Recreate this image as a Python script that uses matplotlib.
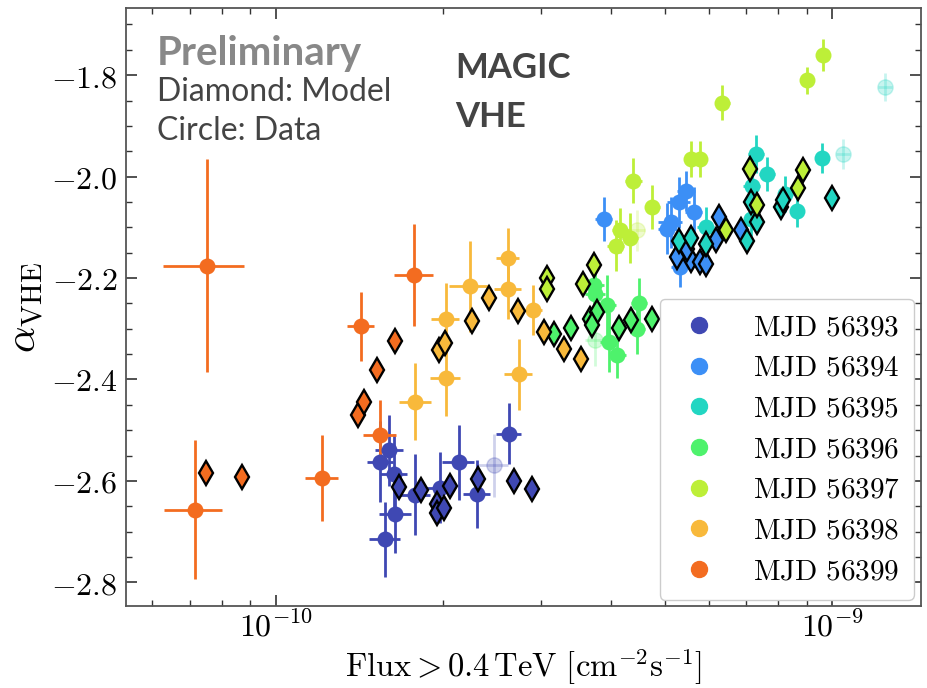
import numpy as np
import matplotlib.pyplot as plt
from matplotlib.lines import Line2D
from matplotlib.ticker import MultipleLocator, FixedLocator, FuncFormatter, LogLocator, NullFormatter

plt.rcParams['mathtext.fontset'] = 'cm'

# MAGIC VHE spectral index vs flux, one colour per night
days = ['56393', '56394', '56395', '56396', '56397', '56398', '56399']
colors = ['#3f48b3', '#3c8ff6', '#22d6c2', '#4ef26c', '#bdef38', '#f8b93b', '#f36c20']

# measured points (flux in units of 1e-10 cm^-2 s^-1)
flux_93 = [1.54, 1.60, 1.63, 1.64, 1.57, 1.78, 1.97, 2.13, 2.30, 2.62]
dflux_93 = [0.085, 0.094, 0.092, 0.11, 0.10, 0.11, 0.12, 0.14, 0.13, 0.135]
alpha_93 = [-2.562, -2.540, -2.587, -2.665, -2.715, -2.627, -2.614, -2.563, -2.625, -2.507]
dalpha_93 = [0.08, 0.07, 0.08, 0.077, 0.074, 0.08, 0.07, 0.074, 0.067, 0.06]

flux_94 = [3.885, 5.46, 5.30, 5.64, 5.12, 5.05, 5.33]
dflux_94 = [0.135, 0.2, 0.25, 0.2, 0.25, 0.2, 0.2]
alpha_94 = [-2.083, -2.028, -2.051, -2.070, -2.090, -2.103, -2.178]
dalpha_94 = [0.043, 0.04, 0.05, 0.05, 0.05, 0.05, 0.04]

flux_95 = [7.30, 7.63, 7.17, 8.23, 8.64, 9.58, 5.92, 7.13]
dflux_95 = [0.25, 0.25, 0.25, 0.25, 0.25, 0.25, 0.2, 0.2]
alpha_95 = [-1.955, -1.995, -2.018, -2.034, -2.067, -1.963, -2.100, -2.083]
dalpha_95 = [0.037, 0.034, 0.03, 0.035, 0.033, 0.029, 0.04, 0.035]

flux_96 = [3.73, 3.75, 3.94, 4.49, 4.46, 3.97, 4.11]
dflux_96 = [0.15, 0.15, 0.15, 0.15, 0.15, 0.15, 0.15]
alpha_96 = [-2.214, -2.231, -2.254, -2.250, -2.300, -2.326, -2.352]
dalpha_96 = [0.05, 0.05, 0.06, 0.05, 0.05, 0.06, 0.046]

flux_97 = [5.56, 5.79, 4.39, 4.75, 4.16, 4.08, 4.33, 6.34, 9.01, 9.62]
dflux_97 = [0.15, 0.15, 0.15, 0.15, 0.15, 0.15, 0.15, 0.2, 0.25, 0.25]
alpha_97 = [-1.965, -1.965, -2.008, -2.060, -2.106, -2.136, -2.121, -1.854, -1.810, -1.760]
dalpha_97 = [0.036, 0.036, 0.045, 0.043, 0.045, 0.05, 0.05, 0.034, 0.027, 0.031]

flux_98 = [2.61, 2.61, 2.23, 2.02, 2.02, 1.78, 2.73, 2.90]
dflux_98 = [0.125, 0.145, 0.185, 0.117, 0.125, 0.117, 0.16, 0.11]
alpha_98 = [-2.161, -2.221, -2.216, -2.280, -2.398, -2.444, -2.390, -2.263]
dalpha_98 = [0.06, 0.06, 0.09, 0.07, 0.075, 0.076, 0.07, 0.05]

flux_99 = [0.752, 0.715, 1.209, 1.421, 1.771, 1.539]
dflux_99 = [0.124, 0.086, 0.083, 0.079, 0.143, 0.106]
alpha_99 = [-2.176, -2.657, -2.594, -2.295, -2.194, -2.509]
dalpha_99 = [0.21, 0.137, 0.085, 0.068, 0.10, 0.068]

# low-significance points, drawn faded
faded_day = ['56393', '56395', '56395', '56396', '56397']
faded_flux = [2.465, 10.45, 12.45, 3.75, 4.46]
faded_dflux = [0.153, 0.3, 0.35, 0.15, 0.15]
faded_alpha = [-2.569, -1.955, -1.823, -2.3225, -2.106]
faded_dalpha = [0.062, 0.03, 0.027, 0.05, 0.04]

# model points
mflux_93 = [1.665, 1.82, 1.945, 1.948, 2.005, 2.056, 2.308, 2.678, 2.889]
malpha_93 = [-2.612, -2.6175, -2.645, -2.663, -2.6535, -2.610, -2.5965, -2.600, -2.616]
mflux_94 = [6.25, 6.84, 6.19, 5.56, 5.79, 5.92, 5.25, 5.48]
malpha_94 = [-2.080, -2.106, -2.1245, -2.165, -2.1685, -2.172, -2.159, -2.142]
mflux_95 = [5.30, 5.56, 5.94, 7.01, 7.33, 7.13, 8.07, 8.16, 9.99]
malpha_95 = [-2.126, -2.121, -2.132, -2.127, -2.090, -2.051, -2.060, -2.047, -2.042]
mflux_96 = [3.16, 3.385, 3.666, 3.781, 3.703, 4.134, 4.338, 4.732]
malpha_96 = [-2.310, -2.2995, -2.280, -2.267, -2.293, -2.2995, -2.283, -2.280]
mflux_97 = [7.10, 7.33, 6.45, 8.86, 8.66, 3.07, 3.07, 3.57, 3.73]
malpha_97 = [-1.985, -2.055, -2.105, -1.987, -2.023, -2.199, -2.221, -2.212, -2.174]
mflux_98 = [1.965, 2.011, 2.255, 2.415, 2.728, 3.032, 3.294, 3.528]
malpha_98 = [-2.341, -2.328, -2.285, -2.239, -2.265, -2.306, -2.339, -2.359]
mflux_99 = [0.749, 0.868, 1.402, 1.437, 1.518, 1.637]
malpha_99 = [-2.585, -2.593, -2.470, -2.445, -2.382, -2.324]

data = [
    (flux_93, dflux_93, alpha_93, dalpha_93),
    (flux_94, dflux_94, alpha_94, dalpha_94),
    (flux_95, dflux_95, alpha_95, dalpha_95),
    (flux_96, dflux_96, alpha_96, dalpha_96),
    (flux_97, dflux_97, alpha_97, dalpha_97),
    (flux_98, dflux_98, alpha_98, dalpha_98),
    (flux_99, dflux_99, alpha_99, dalpha_99),
]
model = [(mflux_93, malpha_93), (mflux_94, malpha_94), (mflux_95, malpha_95),
         (mflux_96, malpha_96), (mflux_97, malpha_97), (mflux_98, malpha_98),
         (mflux_99, malpha_99)]
unit = 1e-10

fig = plt.figure(figsize=(9.27, 6.88), dpi=100)
ax = fig.add_axes([0.136, 0.119, 0.857, 0.869])

# faded points first
for d, f, df, a, da in zip(faded_day, faded_flux, faded_dflux, faded_alpha, faded_dalpha):
    c = colors[days.index(d)]
    ax.errorbar(f * unit, a, xerr=df * unit, yerr=da, fmt='o', color=c, ms=11,
                elinewidth=2, capsize=0, alpha=0.25, zorder=1)

# measured data
for (f, df, a, da), c in zip(data, colors):
    ax.errorbar(np.array(f) * unit, a, xerr=np.array(df) * unit, yerr=da, fmt='o',
                color=c, ms=11.5, mec='none', elinewidth=2, capsize=0, zorder=2)

# model diamonds on top
for (mf, ma), c in zip(model, colors):
    ax.plot(np.array(mf) * unit, ma, 'd', color=c, ms=12.5, mec='black', mew=1.7,
            linestyle='None', zorder=3)

ax.set_xscale('log')
ax.set_xlim(5.38e-11, 1.44e-9)
ax.set_ylim(-2.847, -1.668)

ax.xaxis.set_major_locator(FixedLocator([1e-10, 1e-9]))
ax.xaxis.set_major_formatter(FuncFormatter(lambda v, p: r'$10^{%d}$' % round(np.log10(v))))
ax.xaxis.set_minor_locator(LogLocator(base=10, subs=np.arange(2, 10)))
ax.xaxis.set_minor_formatter(NullFormatter())
ax.yaxis.set_major_locator(MultipleLocator(0.2))
ax.yaxis.set_minor_locator(MultipleLocator(0.05))
ax.yaxis.set_major_formatter(FuncFormatter(lambda v, p: r'$%.1f$' % v))

ax.tick_params(which='both', direction='in', top=True, right=True, colors='#333333',
               labelcolor='black')
ax.tick_params(which='major', length=8, width=1.2, labelsize=23, pad=6)
ax.tick_params(axis='x', which='major', pad=4)
ax.tick_params(which='minor', length=4, width=1.0)
for s in ax.spines.values():
    s.set_color('#555555')
    s.set_linewidth(1.3)

ax.set_xlabel(r'$\mathrm{Flux} > 0.4\,\mathrm{TeV}\ [\mathrm{cm}^{-2}\mathrm{s}^{-1}]$',
              fontsize=23.5)
ax.xaxis.set_label_coords(0.5, -0.068)
ax.set_ylabel(r'$\alpha_{\mathrm{VHE}}$', fontsize=30, labelpad=4)

handles = [Line2D([], [], marker='o', color=c, ms=11.5, linestyle='None') for c in colors]
labels = [r'$\mathrm{MJD\ %s}$' % d for d in days]
leg = ax.legend(handles, labels, loc='lower right', fontsize=21, frameon=True,
                fancybox=True, framealpha=1, edgecolor='#cccccc',
                borderaxespad=0.22, labelspacing=0.434, handlelength=1.74,
                handletextpad=0.95, borderpad=0.5)

fig.text(157 / 927, 1 - 65 / 688, 'Preliminary', fontsize=29, fontweight='bold',
         color='#888888', family='Lato', va='baseline')
fig.text(157 / 927, 1 - 101 / 688, 'Diamond: Model', fontsize=23, color='#444444',
         family='Lato', va='baseline')
fig.text(157 / 927, 1 - 140 / 688, 'Circle: Data', fontsize=23, color='#444444',
         family='Lato', va='baseline')
fig.text(455 / 927, 1 - 78 / 688, 'MAGIC', fontsize=25, fontweight='bold',
         color='#444444', family='Lato', va='baseline')
fig.text(455 / 927, 1 - 127 / 688, 'VHE', fontsize=25, fontweight='bold',
         color='#444444', family='Lato', va='baseline')

fig.savefig('out.png', dpi=100)
